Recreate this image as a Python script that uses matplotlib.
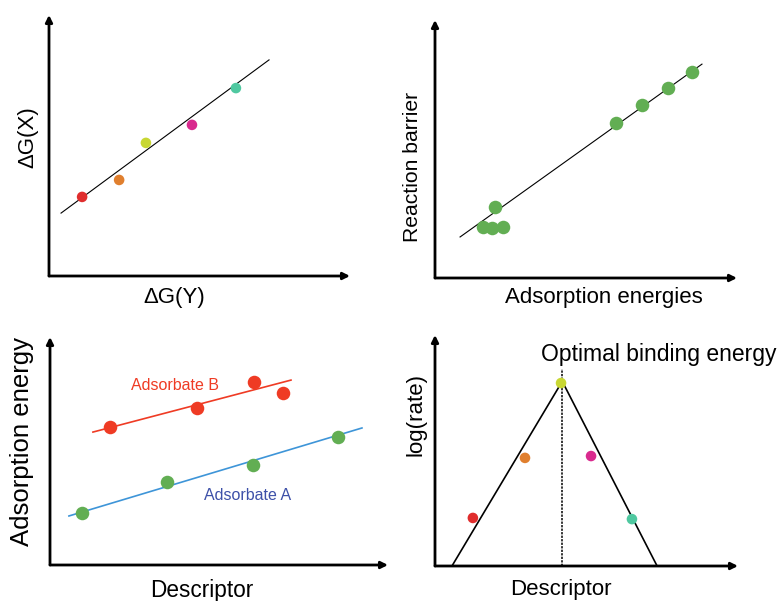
import matplotlib.pyplot as plt

plt.rcParams['font.family'] = ['Liberation Sans', 'DejaVu Sans']

# schematic values, arbitrary units 0-10 on each axis
# panel 1: scaling relation dG(X) vs dG(Y)
p1_x = [1.10, 2.33, 3.22, 4.75, 6.21]
p1_y = [3.03, 3.68, 5.10, 5.79, 7.20]
p1_colors = ["#e02d2d", "#e07f2e", "#c8d733", "#d92a8e", "#4fc8a0"]
p1_fit_x = [0.40, 7.31]
p1_fit_y = [2.41, 8.28]

# panel 2: BEP relation
p2_x = [1.59, 1.89, 2.25, 1.99, 5.99, 6.85, 7.72, 8.51]
p2_y = [1.98, 1.94, 1.98, 2.75, 6.01, 6.71, 7.36, 7.98]
p2_fit_x = [0.83, 8.84]
p2_fit_y = [1.59, 8.29]

# panel 3: two adsorbates vs descriptor
b_x = [1.78, 4.35, 6.04, 6.89]
b_y = [6.05, 6.89, 8.03, 7.54]
b_fit_x = [1.27, 7.13]
b_fit_y = [5.83, 8.11]
a_x = [0.95, 3.46, 6.01, 8.52]
a_y = [2.28, 3.64, 4.39, 5.61]
a_fit_x = [0.56, 9.23]
a_fit_y = [2.15, 6.01]

# panel 4: volcano
v_x = [1.25, 2.97, 4.16, 5.15, 6.50]
v_y = [2.08, 4.68, 7.92, 4.76, 2.03]
v_colors = ["#e02d2d", "#e07f2e", "#c8d733", "#d92a8e", "#4fc8a0"]
v_left_x = [0.56, 4.13]
v_left_y = [0.0, 7.84]
v_right_x = [4.26, 7.33]
v_right_y = [7.84, 0.0]
v_peak_x = 4.19
v_dash_top = 8.53

W, H = 779, 601


def make_axes(fig, left, bottom, right, top):
    ax = fig.add_axes([left / W, 1 - bottom / H, (right - left) / W, (bottom - top) / H])
    ax.set_xlim(0, 10)
    ax.set_ylim(0, 10)
    ax.axis("off")
    arrow = dict(arrowstyle="-|>", lw=2.0, color="black", mutation_scale=10,
                 shrinkA=0, shrinkB=0)
    ax.annotate("", xy=(1, 0), xytext=(0, 0), xycoords="axes fraction",
                arrowprops=arrow, annotation_clip=False)
    ax.annotate("", xy=(0, 1), xytext=(0, 0), xycoords="axes fraction",
                arrowprops=arrow, annotation_clip=False)
    return ax


def ftext(fig, x, y, s, **kw):
    fig.text(x / W, 1 - y / H, s, ha=kw.pop("ha", "center"), va=kw.pop("va", "center"), **kw)


fig = plt.figure(figsize=(W / 100, H / 100), dpi=100)

# panel 1
ax1 = make_axes(fig, 49, 276, 350, 15)
ax1.plot(p1_fit_x, p1_fit_y, color="black", lw=0.8)
ax1.scatter(p1_x, p1_y, s=58, c=p1_colors, zorder=3, linewidths=0)
ftext(fig, 28, 137, "ΔG(X)", fontsize=16, rotation=90)
ftext(fig, 174, 297, "ΔG(Y)", fontsize=16)

# panel 2
ax2 = make_axes(fig, 435, 278, 737, 20)
ax2.plot(p2_fit_x, p2_fit_y, color="black", lw=0.8)
ax2.scatter(p2_x, p2_y, s=95, c="#62ae53", zorder=3, linewidths=0)
ftext(fig, 412, 167, "Reaction barrier", fontsize=15.2, rotation=90)
ftext(fig, 604, 297, "Adsorption energies", fontsize=16)

# panel 3
ax3 = make_axes(fig, 50, 565, 388, 337)
ax3.plot(b_fit_x, b_fit_y, color="#ef3b24", lw=1.2)
ax3.scatter(b_x, b_y, s=95, c="#ef3b24", zorder=3, linewidths=0)
ax3.plot(a_fit_x, a_fit_y, color="#3e95d8", lw=1.2)
ax3.scatter(a_x, a_y, s=95, c="#62ae53", zorder=3, linewidths=0)
ftext(fig, 175, 386, "Adsorbate B", fontsize=11.5, color="#ef3b24")
ftext(fig, 248, 496, "Adsorbate A", fontsize=11.5, color="#3d50a8")
ftext(fig, 22, 442, "Adsorption energy", fontsize=18.5, rotation=90)
ftext(fig, 202, 591, "Descriptor", fontsize=16.3)

# panel 4
ax4 = make_axes(fig, 435, 566, 738, 335)
ax4.plot(v_left_x, v_left_y, color="black", lw=1.2)
ax4.plot(v_right_x, v_right_y, color="black", lw=1.2)
ax4.plot([v_peak_x, v_peak_x], [0, v_dash_top], color="black", lw=1.1, ls=(0, (1.5, 0.8)))
ax4.scatter(v_x, v_y, s=58, c=v_colors, zorder=3, linewidths=0)
ftext(fig, 416, 414, "log(rate)", fontsize=16, rotation=90)
ftext(fig, 561, 590, "Descriptor", fontsize=16)
ftext(fig, 541, 354, "Optimal binding energy", fontsize=16.5, ha="left")

fig.savefig("out.png", dpi=100)
